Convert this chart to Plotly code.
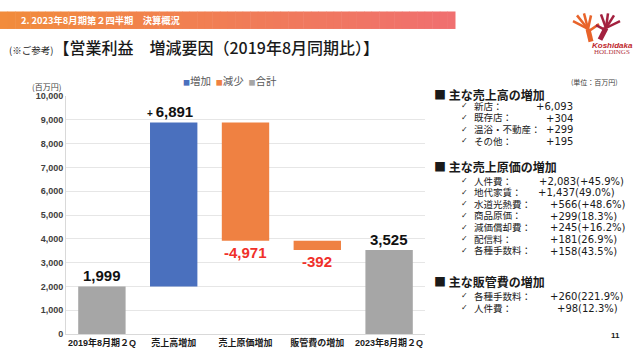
import plotly.graph_objects as go
import numpy as np

# ---------------- data ----------------
categories = ["2019年8月期２Q", "売上高増加", "売上原価増加", "販管費の増加", "2023年8月期２Q"]
values = [1999, 6891, -4971, -392, 3525]
kinds = ["total", "inc", "dec", "dec", "total"]
legend_names = {"inc": "増加", "dec": "減少", "total": "合計"}
colors = {"inc": "#4A70BE", "dec": "#EF8142", "total": "#A6A6A6"}
y_ticks = list(range(0, 10001, 1000))

sales_items = ["新店：", "既存店：", "温浴・不動産：", "その他："]
sales_vals = ["+6,093", "+304", "+299", "+195"]
cost_items = ["人件費：", "地代家賃：", "水道光熱費：", "商品原価：", "減価償却費：", "配信料：", "各種手数料："]
cost_vals = ["+2,083(+45.9%)", "+1,437(49.0%)", "+566(+48.6%)", "+299(18.3%)", "+245(+16.2%)", "+181(26.9%)", "+158(43.5%)"]
sga_items = ["各種手数料：", "人件費："]
sga_vals = ["+260(221.9%)", "+98(12.3%)"]

# ---------------- geometry helpers ----------------
W, H = 640, 360
L, R, T, B = 66, 425, 96, 341


def px(x):
    return (x - L) / (R - L)


def py(y):
    return (B - y) / (B - T)


JP = "Noto Sans CJK JP"
NUM = "Liberation Sans, Noto Sans CJK JP"
VAL = "DejaVu Sans, Noto Sans CJK JP"

# bases
bases, running = [], 0
for v, k in zip(values, kinds):
    if k == "total":
        bases.append(0)
        running = v
    else:
        bases.append(running)
        running += v

fig = go.Figure()
for kind in ["inc", "dec", "total"]:
    idx = [i for i, k in enumerate(kinds) if k == kind]
    fig.add_trace(go.Bar(
        x=[categories[i] for i in idx],
        y=[values[i] for i in idx],
        base=[bases[i] for i in idx],
        name=legend_names[kind],
        marker=dict(color=colors[kind], line=dict(width=0)),
        width=0.66,
        showlegend=False,
        hoverinfo="skip",
    ))

annotations = []
# bar value labels
for i, (c, v, k, b) in enumerate(zip(categories, values, kinds, bases)):
    if k == "total":
        annotations.append(dict(x=c, y=v, text=f"<b>{v:,}</b>", showarrow=False, yanchor="bottom",
                                yshift=0, font=dict(family=NUM, size=15, color="#111111")))
    elif k == "inc":
        annotations.append(dict(x=c, y=b + v, text=f"<b><span style='font-size:10px'>+ </span>{v:,}</b>",
                                showarrow=False, yanchor="bottom", yshift=0, xshift=-4,
                                font=dict(family=NUM, size=15, color="#111111")))
    else:
        annotations.append(dict(x=c, y=b + v, text=f"<b>{v:,}</b>", showarrow=False, yanchor="top",
                                yshift=-1, font=dict(family=NUM, size=15, color="#F0302A")))

# legend (manual)
annotations.append(dict(xref="paper", yref="paper", x=px(181), y=py(80), xanchor="left", yanchor="middle",
                        showarrow=False,
                        text=(f"<span style='color:{colors['inc']};font-size:7px'>■</span>増加  "
                              f"<span style='color:{colors['dec']};font-size:7px'>■</span>減少  "
                              f"<span style='color:{colors['total']};font-size:7px'>■</span>合計"),
                        font=dict(family=JP, size=10.5, color="#595959")))
# y unit
annotations.append(dict(xref="paper", yref="paper", x=px(46), y=py(86), xanchor="center", yanchor="middle",
                        showarrow=False, text="(百万円)", font=dict(family=JP, size=8, color="#404040")))

# header
annotations.append(dict(xref="paper", yref="paper", x=px(19), y=py(18), xanchor="left", yanchor="middle",
                        showarrow=False, text="<b>2. 2023年8月期第２四半期　決算概況</b>",
                        font=dict(family=JP, size=9.3, color="white")))
annotations.append(dict(xref="paper", yref="paper", x=px(7), y=py(46), xanchor="left", yanchor="middle",
                        showarrow=False,
                        text="<span style='font-size:9.5px;font-weight:400'>(※ご参考)</span>【営業利益　増減要因（2019年8月同期比）】",
                        font=dict(family=JP, size=16, color="#1a1a1a", weight=500)))
# logo text
annotations.append(dict(xref="paper", yref="paper", x=px(612), y=py(43.5), xanchor="center", yanchor="middle",
                        showarrow=False, text="<b><i>Koshidaka</i></b>",
                        font=dict(family="Liberation Sans", size=8, color="#C0282D")))
annotations.append(dict(xref="paper", yref="paper", x=px(612), y=py(51), xanchor="center", yanchor="middle",
                        showarrow=False, text="HOLDINGS",
                        font=dict(family="Liberation Serif", size=7, color="#B03040")))

# right panel
annotations.append(dict(xref="paper", yref="paper", x=px(620), y=py(82), xanchor="right", yanchor="middle",
                        showarrow=False, text="(単位：百万円)", font=dict(family=JP, size=7, color="#404040")))


def heading(text, y):
    annotations.append(dict(xref="paper", yref="paper", x=px(432), y=py(y), xanchor="left", yanchor="middle",
                            showarrow=False, text=f"<b>■ {text}</b>",
                            font=dict(family=JP, size=12, color="#1a1a1a")))


def item(label, y):
    annotations.append(dict(xref="paper", yref="paper", x=px(459), y=py(y), xanchor="left", yanchor="middle",
                            showarrow=False, text="✓", font=dict(family="DejaVu Sans", size=8, color="#1a1a1a")))
    annotations.append(dict(xref="paper", yref="paper", x=px(472), y=py(y), xanchor="left", yanchor="middle",
                            showarrow=False, text=label, font=dict(family=JP, size=9.5, color="#1a1a1a")))


def val(text, x, y, anchor):
    annotations.append(dict(xref="paper", yref="paper", x=px(x), y=py(y + 0.7), xanchor=anchor, yanchor="middle",
                            showarrow=False, text=text, font=dict(family=VAL, size=10, color="#1a1a1a")))


heading("主な売上高の増加", 94)
for i, (lab, v) in enumerate(zip(sales_items, sales_vals)):
    yy = 106 + i * 12
    item(lab, yy)
    val(v, 575, yy, "right")

heading("主な売上原価の増加", 169)
cost_x = [537, 536, 548, 548, 548, 548, 548]
for i, (lab, v) in enumerate(zip(cost_items, cost_vals)):
    yy = 183 + i * 12
    item(lab, yy)
    val(v, cost_x[i], yy, "left")

heading("主な販管費の増加", 287)
sga_x = [548, 555]
for i, (lab, v) in enumerate(zip(sga_items, sga_vals)):
    yy = 301.5 + i * 12.3
    item(lab, yy)
    val(v, sga_x[i], yy, "left")

annotations.append(dict(xref="paper", yref="paper", x=px(622), y=py(343), xanchor="right", yanchor="middle",
                        showarrow=False, text="<b>11</b>", font=dict(family=NUM, size=8, color="#1a1a1a")))

# shapes: header gradient bar
shapes = []
n = 60
x0, x1 = 0, 455
c0 = np.array([242, 140, 60])
c1 = np.array([240, 112, 112])
for i in range(n):
    t = i / (n - 1)
    c = (c0 * (1 - t) + c1 * t).astype(int)
    xa = x0 + (x1 - x0) * i / n
    xb = x0 + (x1 - x0) * (i + 1) / n + 0.5
    shapes.append(dict(type="rect", xref="paper", yref="paper", x0=px(xa), x1=px(xb), y0=py(27), y1=py(9),
                       line=dict(width=0), fillcolor=f"rgb({c[0]},{c[1]},{c[2]})", layer="below"))


# logo hands (rough strokes)
def stroke(xa, ya, xb, yb, color, w):
    shapes.append(dict(type="line", xref="paper", yref="paper", x0=px(xa), y0=py(ya), x1=px(xb), y1=py(yb),
                       line=dict(color=color, width=w)))


orange = "#E8632A"
dred = "#A3213F"
# orange hand
stroke(591, 40, 588, 27, orange, 5)
stroke(588, 27, 573, 19, orange, 2.5)
stroke(588, 27, 577, 13, orange, 2.5)
stroke(588, 27, 584, 11, orange, 2.5)
stroke(588, 27, 591, 13, orange, 2.5)
stroke(589, 29, 599, 22, orange, 2.5)
# dark red hand
stroke(600, 38, 606, 26, dred, 5)
stroke(606, 26, 601, 12, dred, 2.5)
stroke(606, 26, 608, 11, dred, 2.5)
stroke(606, 26, 614, 13, dred, 2.5)
stroke(606, 26, 620, 19, dred, 2.5)
stroke(605, 28, 596, 23, dred, 2.5)

fig.update_layout(
    width=W, height=H, autosize=False,
    margin=dict(l=L, r=W - R, t=T, b=H - B, pad=0),
    paper_bgcolor="white", plot_bgcolor="white",
    barmode="overlay",
    showlegend=False,
    annotations=annotations,
    shapes=shapes,
    xaxis=dict(categoryorder="array", categoryarray=categories, showgrid=False, showline=True,
               linecolor="#D9D9D9", linewidth=1, ticks="",
               tickfont=dict(family=NUM, size=9, color="#1a1a1a", weight="bold"), fixedrange=True),
    yaxis=dict(range=[0, 10000], tickvals=y_ticks, tickformat=",", showgrid=True, gridcolor="#E6E6E6",
               gridwidth=1, showline=True, linecolor="#D9D9D9", zeroline=False, ticks="",
               tickfont=dict(family=NUM, size=9, color="#404040", weight="bold"), fixedrange=True),
)

fig.write_html("out.html", config={"displayModeBar": False},
               post_script="document.body.style.margin='0';document.body.style.overflow='hidden';")
